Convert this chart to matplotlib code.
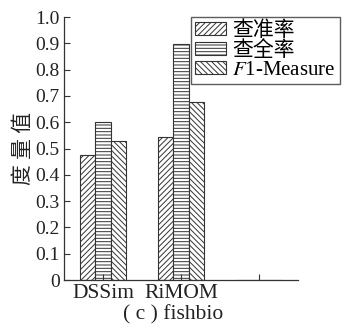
import numpy as np
import matplotlib
matplotlib.use('Agg')
import matplotlib.pyplot as plt

plt.rcParams['font.family'] = ['Liberation Serif', 'Noto Sans CJK SC']
plt.rcParams['mathtext.fontset'] = 'stix'
plt.rcParams['hatch.linewidth'] = 0.7

methods = ['DSSim', 'RiMOM', '']
precision = [0.475, 0.543, 0]
recall = [0.601, 0.899, 0]
f1 = [0.530, 0.677, 0]
series_labels = ['查准率', '查全率', '$F$1-Measure']
yticks = [0, 0.1, 0.2, 0.3, 0.4, 0.5, 0.6, 0.7, 0.8, 0.9, 1.0]
ytick_labels = ['0', '0.1', '0.2', '0.3', '0.4', '0.5', '0.6', '0.7', '0.8', '0.9', '1.0']

fig = plt.figure(figsize=(3.43, 3.27), dpi=100)
ax = fig.add_axes([0.1866, 0.1437, 0.682, 0.804])

x = np.arange(len(methods))
w = 0.2
hatches = ['//////', '-----', '\\\\\\\\\\\\']
for i, (vals, lab) in enumerate(zip([precision, recall, f1], series_labels)):
    ax.bar(x + (i - 1) * w, vals, w, label=lab,
           facecolor='white', edgecolor='#333333', hatch=hatches[i], linewidth=0.8)

ax.set_xlim(-0.5, 2.5)
ax.set_ylim(0, 1.0)
ax.set_xticks(x)
ax.set_xticklabels(methods, fontsize=15.5)
ax.set_yticks(yticks)
ax.set_yticklabels(ytick_labels, fontsize=14)
ax.tick_params(direction='in', length=4, width=0.8, color='#333333', labelcolor='#222222')
ax.tick_params(axis='x', pad=3)
ax.tick_params(axis='y', pad=3)
for s in ['top', 'right']:
    ax.spines[s].set_visible(False)
for s in ['left', 'bottom']:
    ax.spines[s].set_color('#333333')
    ax.spines[s].set_linewidth(0.9)

ax.set_ylabel('度 量 值', fontsize=15, color='#222222', labelpad=1)

ax.legend(loc='upper right', bbox_to_anchor=(0.991, 0.948), bbox_transform=fig.transFigure,
          fontsize=15, frameon=True, fancybox=False, edgecolor='#333333',
          borderaxespad=0, borderpad=0.2, labelspacing=0.0, handlelength=1.5,
          handleheight=0.6, handletextpad=0.3)

fig.text(0.505, 0.022, '( c ) fishbio', ha='center', va='baseline', fontsize=15.5, color='#222222')

fig.savefig('out.png', dpi=100)
